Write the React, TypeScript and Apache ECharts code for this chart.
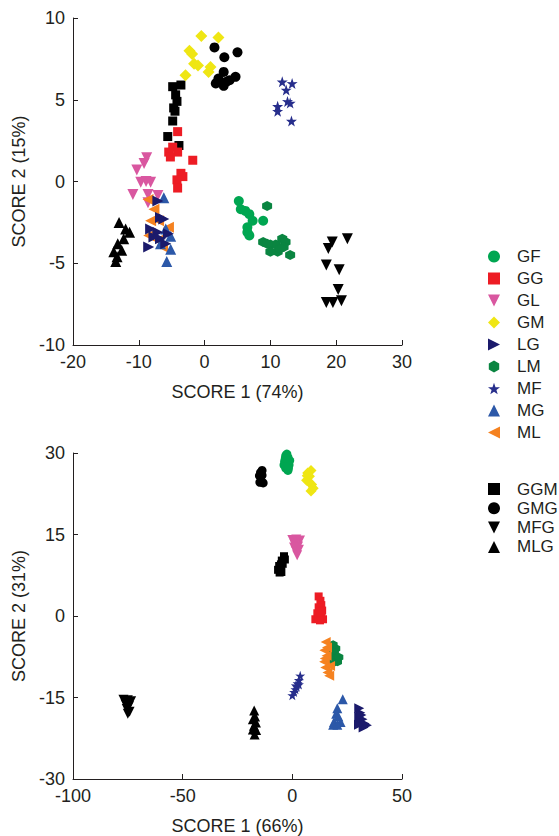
import React, { useEffect, useRef } from "react";
import * as echarts from "echarts";

// ---------- Top plot (SCORE 1 74%, SCORE 2 15%) ----------
const GF_A = [[5.2,-1.2],[5.5,-1.7],[6.2,-1.8],[6.8,-2.0],[7.3,-2.4],[6.5,-2.8],[6.5,-3.1],[6.8,-3.3],[8.9,-2.4]];
const GG_A = [[-4.1,3.05],[-4.85,2.1],[-5.45,1.8],[-4.1,1.8],[-5.2,1.5],[-1.8,1.3],[-3.3,0.3],[-3.6,0.5],[-4.2,0.1],[-4.1,-0.4]];
const GL_A = [[-8.8,1.45],[-9.2,1.1],[-10.3,0.7],[-9.7,-0.05],[-8.9,0.0],[-8.2,-0.05],[-10.9,-0.8],[-7.1,-0.85],[-8.6,-0.8],[-8.6,-1.3]];
const GM_A = [[-0.5,8.9],[2.1,8.8],[-2.3,8.0],[-1.9,7.8],[-1.6,7.2],[-1.0,7.1],[0.9,7.0],[0.6,6.7],[-2.9,6.5]];
const LG_A = [[-7.1,-1.2],[-6.7,-2.2],[-6.2,-2.3],[-8.2,-2.9],[-7.1,-3.1],[-5.5,-3.2],[-8.5,-4.0],[-7.7,-3.4],[-6.7,-3.5],[-5.9,-3.8]];
const LM_A = [[9.5,-1.5],[8.9,-3.7],[10.0,-3.85],[10.8,-3.85],[11.8,-3.5],[12.3,-3.7],[11.1,-4.3],[10.0,-4.3],[13.0,-4.5],[12.0,-4.0],[9.5,-3.8],[11.5,-4.1]];
const MF_A = [[11.8,6.1],[13.3,6.0],[12.4,5.6],[12.6,4.9],[13.0,4.8],[11.1,4.6],[11.1,4.3],[13.2,3.7]];
const MG_A = [[-6.2,-1.0],[-5.9,-2.9],[-5.15,-3.35],[-5.15,-4.15],[-6.7,-3.8],[-5.75,-4.9]];
const ML_A = [[-8.6,-1.1],[-7.7,-1.7],[-8.2,-2.4],[-7.0,-2.4],[-5.5,-2.8],[-8.5,-3.3],[-6.4,-4.0],[-7.1,-3.6]];
const GGM_A = [[-4.85,5.8],[-3.6,5.9],[-4.4,5.3],[-4.2,4.9],[-4.7,4.5],[-4.5,4.3],[-4.85,3.7],[-5.6,2.75],[-3.9,2.2]];
const GMG_A = [[1.5,8.2],[5.0,7.9],[3.0,7.6],[2.9,6.7],[4.7,6.4],[2.1,6.3],[3.8,6.2],[1.7,6.0],[2.9,5.85],[3.3,6.1]];
const MFG_A = [[19.4,-3.7],[21.7,-3.5],[18.8,-4.1],[18.5,-5.1],[20.45,-5.4],[20.3,-6.6],[18.5,-7.4],[19.5,-7.4],[20.8,-7.3]];
const MLG_A = [[-13.0,-2.5],[-11.4,-3.1],[-12.0,-2.9],[-12.3,-3.5],[-13.2,-3.8],[-13.8,-4.3],[-12.6,-4.2],[-13.3,-4.6],[-13.5,-4.9]];

// ---------- Bottom plot (SCORE 1 66%, SCORE 2 31%) ----------
const GF_B = [[-3,29.5],[-2,29.2],[-3.5,28.5],[-2.5,28],[-1.5,27.8],[-3,27.2],[-2,26.8],[-1.2,28.6],[-2.5,29.8],[-3.8,27.8],[-1.8,27.2],[-3.2,29]];
const GG_B = [[12,3.6],[12.8,2.8],[13.2,2],[12,1.6],[13.6,1],[11.4,0.5],[13.2,0],[10.5,-0.6],[14,-0.6],[12.5,0.8],[11.8,-0.4],[12.6,-0.8]];
const GL_B = [[0,14],[1.8,14.1],[3.5,13.9],[1,13.2],[2.6,12.8],[1.5,12],[2.2,11.2],[3,12.2],[0.8,12.6]];
const GM_B = [[7,26.3],[8.5,26.8],[7.8,25.7],[6.5,25],[7.5,24.7],[8.8,24.2],[9.5,23.5],[8.5,23],[6.8,25.8]];
const LG_B = [[30.5,-17],[31,-17.8],[30.5,-18.6],[32,-19],[31,-19.5],[33,-19.8],[32.5,-20.5],[34,-20.1],[31.5,-18.2],[30.4,-20]];
const LM_B = [[18.6,-5.3],[19.2,-6.5],[18.2,-7.5],[19.6,-8],[20.6,-8.4],[21.2,-7.6],[18.6,-8.6],[19.8,-6],[17.8,-6.5]];
const MF_B = [[3.6,-11],[3,-11.8],[2.4,-12.4],[2,-13],[1.4,-13.5],[0.8,-14],[0,-14.6],[3,-12.6],[1.6,-12.8]];
const MG_B = [[23,-15.3],[20.5,-17],[20,-18],[21,-18.5],[19,-19.5],[22,-19.5],[20.5,-20],[18.6,-20]];
const ML_B = [[15.2,-4.8],[14.6,-6.3],[15.6,-7.3],[14.5,-8.4],[15,-9.5],[16,-10.4],[16.8,-11],[17.2,-9.2],[15.8,-5.8],[14.8,-7.8]];
const GGM_B = [[-3.8,11],[-3.4,10.4],[-4.8,10.2],[-5.2,9.5],[-6,9.2],[-6.5,8.5],[-5,8.1],[-4.4,9.6],[-5.8,8]];
const GMG_B = [[-14.5,26.4],[-15,25.8],[-13.8,25.9],[-14.2,24.8],[-13.3,24.5],[-14.8,24.6],[-13.8,26.8]];
const MFG_B = [[-77,-15.4],[-75,-15.5],[-73.5,-15.7],[-76,-16.3],[-74.5,-16.6],[-75.5,-17.1],[-74.2,-17.6],[-75,-18]];
const MLG_B = [[-17.4,-17.4],[-17,-18.5],[-18,-19],[-16.6,-19.6],[-17.5,-20.2],[-18,-20.9],[-16.5,-21],[-17.2,-21.8]];

const LEGEND_COLOURED = ["GF", "GG", "GL", "GM", "LG", "LM", "MF", "MG", "ML"];
const LEGEND_BLACK = ["GGM", "GMG", "MFG", "MLG"];

const X_TICKS_TOP = { min: -20, max: 30, interval: 10 };
const Y_TICKS_TOP = { min: -10, max: 10, interval: 5 };
const X_TICKS_BOT = { min: -100, max: 50, interval: 50 };
const Y_TICKS_BOT = { min: -30, max: 30, interval: 15 };

const DOWN = "path://M0,0L10,0L5,10Z";
const RIGHT = "path://M0,0L10,5L0,10Z";
const LEFT = "path://M10,0L0,5L10,10Z";
const HEX = "path://M5,0L9.33,2.5L9.33,7.5L5,10L0.67,7.5L0.67,2.5Z";
const STAR = "path://M50,0L61.8,35.3L97.6,34.5L69.1,56.7L79.4,90.5L50,70.2L20.6,90.5L30.9,56.7L2.4,34.5L38.2,35.3Z";

const STYLE: Record<string, { color: string; symbol: string; size: number }> = {
  GF: { color: "#00a651", symbol: "circle", size: 10 },
  GG: { color: "#ed1c24", symbol: "rect", size: 9 },
  GL: { color: "#d957a0", symbol: DOWN, size: 11 },
  GM: { color: "#efe614", symbol: "diamond", size: 12 },
  LG: { color: "#1b1a6b", symbol: RIGHT, size: 11 },
  LM: { color: "#0a8541", symbol: HEX, size: 10 },
  MF: { color: "#272e8c", symbol: STAR, size: 11 },
  MG: { color: "#2c58a8", symbol: "triangle", size: 11 },
  ML: { color: "#f58220", symbol: LEFT, size: 11 },
  GGM: { color: "#000000", symbol: "rect", size: 9 },
  GMG: { color: "#000000", symbol: "circle", size: 10 },
  MFG: { color: "#000000", symbol: DOWN, size: 11 },
  MLG: { color: "#000000", symbol: "triangle", size: 11 },
};

const FONT = "Liberation Sans, Arial, sans-serif";
const TXT = "#231f20";

function axisCommon(extra: any) {
  return {
    axisLine: { show: true, onZero: false, lineStyle: { color: TXT, width: 1 } },
    axisTick: { show: true, inside: true, length: 5, lineStyle: { color: TXT } },
    axisLabel: { color: TXT, fontSize: 18, fontFamily: FONT },
    splitLine: { show: false },
    nameLocation: "middle",
    nameTextStyle: { color: TXT, fontSize: 18, fontFamily: FONT },
    ...extra,
  };
}

export default function App() {
  const ref = useRef<HTMLDivElement>(null);
  useEffect(() => {
    if (!ref.current) return;
    const chart = echarts.init(ref.current, undefined, { renderer: "svg" });

    const top: Record<string, number[][]> = {
      GF: GF_A, GG: GG_A, GL: GL_A, GM: GM_A, LG: LG_A, LM: LM_A, MF: MF_A, MG: MG_A, ML: ML_A,
      GGM: GGM_A, GMG: GMG_A, MFG: MFG_A, MLG: MLG_A,
    };
    const bot: Record<string, number[][]> = {
      GF: GF_B, GG: GG_B, GL: GL_B, GM: GM_B, LG: LG_B, LM: LM_B, MF: MF_B, MG: MG_B, ML: ML_B,
      GGM: GGM_B, GMG: GMG_B, MFG: MFG_B, MLG: MLG_B,
    };
    const order = ["GGM", "GMG", "MFG", "MLG", "GF", "LM", "GG", "GL", "GM", "MF", "ML", "MG", "LG"];
    const series: any[] = [];
    order.forEach((name) => {
      const s = STYLE[name];
      series.push({
        type: "scatter", name, xAxisIndex: 0, yAxisIndex: 0, data: top[name],
        symbol: s.symbol, symbolSize: s.size, itemStyle: { color: s.color, opacity: 1 },
      });
      series.push({
        type: "scatter", name, xAxisIndex: 1, yAxisIndex: 1, data: bot[name],
        symbol: s.symbol, symbolSize: Math.round(s.size * 0.9), itemStyle: { color: s.color, opacity: 1 },
      });
    });

    const legendCommon = {
      orient: "vertical",
      left: 483,
      itemWidth: 12,
      itemHeight: 12,
      textStyle: { color: TXT, fontSize: 17, fontFamily: FONT, padding: [0, 0, 0, 12] },
      selectedMode: false,
    };

    chart.setOption({
      animation: false,
      backgroundColor: "#ffffff",
      textStyle: { fontFamily: FONT },
      grid: [
        { left: 73, top: 18, width: 329, height: 327 },
        { left: 73, top: 453, width: 329, height: 328 },
      ],
      legend: [
        { ...legendCommon, top: 243, itemGap: 5.0, data: LEGEND_COLOURED },
        { ...legendCommon, top: 475.5, itemGap: 2.3, data: LEGEND_BLACK },
      ],
      xAxis: [
        axisCommon({ gridIndex: 0, type: "value", ...X_TICKS_TOP, name: "SCORE 1 (74%)", nameGap: 38 }),
        axisCommon({ gridIndex: 1, type: "value", ...X_TICKS_BOT, name: "SCORE 1 (66%)", nameGap: 38 }),
      ],
      yAxis: [
        axisCommon({ gridIndex: 0, type: "value", ...Y_TICKS_TOP, name: "SCORE 2 (15%)", nameGap: 42 }),
        axisCommon({ gridIndex: 1, type: "value", ...Y_TICKS_BOT, name: "SCORE 2 (31%)", nameGap: 42 }),
      ],
      series,
    });
    return () => chart.dispose();
  }, []);
  return (
    <div
      ref={ref}
      style={{ position: "fixed", left: 0, top: 0, width: 559, height: 836, background: "#fff" }}
    />
  );
}
